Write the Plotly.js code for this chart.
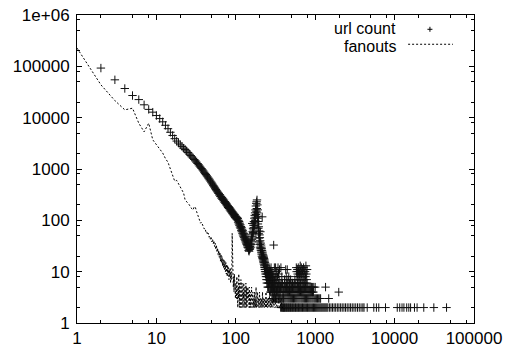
<!DOCTYPE html>
<html><head><meta charset="utf-8">
<script src="https://cdn.plot.ly/plotly-3.0.1.min.js"></script>
<style>html,body{margin:0;padding:0;background:#fff}#chart{width:505px;height:352px}</style>
</head><body><div id="chart"></div>
<script>
// ---------- tick labels ----------
const xTickVals = [1, 10, 100, 1000, 10000, 100000];
const xTickText = ['1', '10', '100', '1000', '10000', '100000'];
const yTickVals = [1, 10, 100, 1000, 10000, 100000, 1000000];
const yTickText = ['1', '10', '100', '1000', '10000', '100000', '1e+06'];
const xMinorTicks = [2, 5, 8, 20, 50, 80, 200, 500, 800, 2000, 5000, 8000, 20000, 50000, 80000];
const yMinorTicks = [2, 5, 8, 20, 50, 80, 200, 500, 800, 2000, 5000, 8000, 20000, 50000, 80000, 200000, 500000, 800000];

// ---------- series names ----------
const seriesNames = ['url count', 'fanouts'];

// ---------- fanouts (line) ----------
const fanX = [1,2,3,4,5,6,7,8,9,10,11,12,13,14,15,16,17,18,19,20,21,22,23,24,25,26,27,28,29,30,31,
  32,33,34,35,36,37,38,39,40,41,42,43,44,45,46,47,48,49,50,51,52,53,54,55,56,57,58,59,60,
  61,62,63,64,65,66,67,68,69,70,71,72,73,74,75,76,77,78,79,80,81,82,83,84,85,86,87,88,89,90,
  91,92,93,94,95,96,97,98,99,100,
  101,102,103,104,105,106,107,108,109,110,111,112,113,114,115,116,117,118,119,120,
  121,122,123,124,125,126,127,128,129,130,131,132,133,134,135,136,137,138,139,140,
  141,142,143,144,145,146,147,148,149,150,152,154,156,158,160,162,164,166,168,170,
  172,174,176,178,180,182,184,186,188,190,193,196,199,202,205,208,211,214,217,220,
  224,228,232,236,240,244,248,252,257,262,267,272,277,282,288,294,300,307,314,321,
  329,337,345,354,363,372,382,392,402];
const fanY = [227000,43700,21500,14200,15300,7800,5300,7800,3700,3000,2500,2050,1600,1350,1000,780,580,600,520,440,390,340,250,235,220,200,178,170,160,185,178,
  150,128,112,98,88,92,80,74,68,70,60,62,52,56,47,50,42,46,38,43,35,40,31,36,27,33,24,29,21,
  26,19,24,16,22,15,20,13,18,12,17,11,16,10,15,9,14,8,13,9,12,7,11,8,12,6,10,7,9,56,
  6,10,5,8,4,9,5,7,3,6,
  5,3,8,4,6,2,5,3,9,4,2,6,3,5,2,7,3,4,2,6,
  3,5,2,4,3,6,2,4,3,5,2,4,3,6,2,3,5,2,4,3,
  2,5,3,2,4,3,2,5,3,2,4,2,3,5,2,3,4,2,3,2,
  4,2,3,2,5,2,3,2,4,2,3,2,4,2,3,2,3,2,4,2,
  3,2,3,2,4,2,3,2,3,2,4,2,3,2,3,2,3,2,2,3,
  2,2,3,2,2,3,2,2,2];

// ---------- url count (points) ----------
const urlHeadX = [2,3,4,5,6,7,8,9,10,11,12,13,14,15,16,17,18,19,20,21,22,23,24,25,26,27,28,29,30,
  31,32,33,34,35,36,37,38,39,40,41,42,43,44,45,46,47,48,49,50,51,52,53,54,55,56,57,58,59,60,
  61,62,63,64,65,66,67,68,69,70,71,72,73,74,75,76,77,78,79,80,81,82,83,84,85,86,87,88,89,90,
  91,92,93,94,95,96,97,98,99,100,101,102,103,104,105];
const urlHeadY = [92500,54600,37000,27000,22500,17800,14500,12800,11000,9600,8300,7100,6100,5200,4500,3900,3500,3200,2950,2750,2550,2400,2250,2100,1950,1830,1720,1620,1530,
  1440,1360,1280,1210,1140,1080,1020,965,915,865,820,780,740,705,670,640,610,580,555,530,505,480,460,440,420,400,385,370,355,340,
  335,312,315,290,295,270,280,255,262,240,248,225,232,212,220,200,208,190,196,178,186,170,178,160,168,152,160,145,152,138,
  146,132,139,126,133,120,128,114,122,110,118,106,113,102,108];

const urlMidX = [106,107,108,109,110,111,112,113,114,115,116,117,118,119,120,121,122,123,124,125,
  126,127,128,129,130,131,132,133,134,135,136,137,138,139,140,141,142,143,144,145,146,147,148,149,150,
  151,152,153,154,155,156,157,158,159,160,161,162,163,164,165,166,167,168,169,170,
  171,172,173,174,175,176,177,178,179,180,181,182,183,184,185,186,187,188,189,190,
  191,192,193,194,195,196,197,198,199,200,201,202,203,204,205,206,207,208,209,210,
  211,212,213,214,215,216,217,218,219,220,221,222,223,224,225,226,227,228,229,230,
  231,232,233,234,235,236,237,238,239,240,241,242,243,244,245,246,247,248,249,250,
  251,252,253,254,255,256,257,258,259,260];
const urlMidY = [110,92,100,85,95,80,88,74,82,70,76,64,72,60,67,56,63,52,59,49,
  55,46,52,43,48,41,45,38,43,36,40,34,38,32,36,30,34,29,32,26,30,25,29,27,31,
  28,33,35,30,40,34,45,38,52,42,87,48,60,55,70,58,80,65,95,72,
  110,80,125,90,140,100,160,115,190,130,214,150,230,170,250,140,200,110,160,85,
  120,70,95,55,75,45,62,38,52,34,46,30,40,60,28,36,26,33,24,30,
  22,28,20,26,117,19,24,18,22,17,21,16,20,15,19,14,18,13,17,12,
  16,11,15,10,14,12,9,13,11,8,12,10,7,11,9,6,10,8,12,7,
  9,5,11,6,8,10,7,5,9,6];

const urlLowX = [261,262,263,264,265,266,267,268,269,270,271,272,273,274,275,276,277,278,279,280,
  281,282,283,284,285,286,287,288,289,290,291,292,293,294,295,296,297,298,299,300,
  301,302,303,304,305,306,307,308,309,310,312,313,315,316,317,318,320,321,323,324,
  326,327,329,330,332,334,335,337,339,340,342,344,345,347,349,350,352,354,355,357,
  359,361,363,365,367,369,370,372,374,376,378,380,382,384,386,388,390,392,394,396,398,400,
  410,425,432,440,445,455,465,490,520,555];
const urlLowY = [8,12,9,6,10,7,5,8,11,6,9,4,7,10,5,8,6,12,4,7,
  9,5,6,8,3,10,5,7,4,6,8,3,5,9,4,6,7,3,5,33,
  4,8,6,3,5,12,4,7,3,6,5,4,8,3,12,6,4,5,3,7,
  4,10,5,3,6,4,8,5,3,12,4,6,9,3,5,4,7,3,11,5,
  4,6,3,5,2,4,12,3,6,2,5,8,3,4,2,6,3,2,5,4,2,3,
  7,11,8,6,11,7,8,7,6,7];

const urlRow2X = [403,411,418,426,434,442,451,460,469,478,488,498,508,519,530,541,553,565,577,590,
  603,617,631,646,661,676,692,709,726,743,761,780,799,819,840,861,883,906,929,953,
  978,1004,1031,1059,1088,1118,1149,1181,1214,1249,1285,1322,1361,1401,1443,1510,1580,1650,1730,1810,
  1900,1990,2090,2190,2300,2410,2530,2660,2790,2930,3080,3240,3410,3590,3780,3980,4120,4520,5470,5900,
  6320,7680,10800,11600,12400,13100,14200,15100,15900,17800,19200,23300,31200,45100];
const urlRow3X = [404,416,429,443,457,471,486,501,517,533,550,568,586,605,624,644,665,686,708,731,
  754,778,803,829,856,883,912,941,972,1003,1036,1070,1105,1141,1170,1480];
const urlRow4X = [406,419,432,446,460,475,491,507,523,540,557,575,594,613,633,653,674,696,718,741,
  765,790,815,841,868,896,925,950,1980];
const urlRow5X = [407,421,436,452,468,484,501,518,536,555,574,594,615,637,659,682,706,731,757,783,
  810,838,867,897,928,960,1000,1350];
const urlRow6X = [413,431,452,474,497,520,545,570,597,625,655,685,717,752,790];
const urlTowerX = [578,584,589,596,601,607,612,618,624,630,636,642,648,655,662,669,676,683,690,698,
  706,714,722,730,738,746,755,764,773,782,790];
const urlTowerY = [12,10,8,11,9,7,12,10,8,11,9,7,13,10,8,12,9,7,11,10,
  8,12,9,7,11,10,8,13,9,7,11];

// assemble the url count series from the pieces above
function levelY(xs, v) { return xs.map(function () { return v; }); }
const urlX = [].concat(urlHeadX, urlMidX, urlLowX, urlRow2X, urlRow3X, urlRow4X, urlRow5X, urlRow6X, urlTowerX);
const urlY = [].concat(urlHeadY, urlMidY, urlLowY,
  levelY(urlRow2X, 2), levelY(urlRow3X, 3), levelY(urlRow4X, 4), levelY(urlRow5X, 5), levelY(urlRow6X, 6), urlTowerY);

// ---------- plot ----------
const FONT = '"Liberation Sans", Arial, Helvetica, sans-serif';
const traces = [
  { x: urlX, y: urlY, name: seriesNames[0], type: 'scatter', mode: 'markers',
    marker: { symbol: 'cross-thin-open', size: 6, color: '#111', line: { color: '#111', width: 1 } },
    hoverinfo: 'skip' },
  { x: fanX, y: fanY, name: seriesNames[1], type: 'scatter', mode: 'lines',
    line: { color: '#000', width: 1, dash: '2px,2px' }, hoverinfo: 'skip' }
];

function axisBase() {
  return {
    type: 'log', ticks: 'inside', ticklen: 5, tickwidth: 1, tickcolor: '#000',
    showline: true, linecolor: '#000', linewidth: 1, mirror: 'allticks',
    showgrid: false, zeroline: false,
    tickfont: { family: FONT, size: 17, color: '#000' }
  };
}
const xaxis = Object.assign(axisBase(), {
  range: [0, 5], tickmode: 'array', tickvals: xTickVals, ticktext: xTickText,
  minor: { tickmode: 'array', tickvals: xMinorTicks, ticks: 'inside', ticklen: 3, tickcolor: '#000', tickwidth: 1, showgrid: false }
});
const yaxis = Object.assign(axisBase(), {
  range: [0, 6], tickmode: 'array', tickvals: yTickVals, ticktext: yTickText, ticklabelstandoff: 3,
  minor: { tickmode: 'array', tickvals: yMinorTicks, ticks: 'inside', ticklen: 3, tickcolor: '#000', tickwidth: 1, showgrid: false }
});

const layout = {
  width: 505, height: 352,
  margin: { l: 77, r: 31, t: 15, b: 29, pad: 0 },
  paper_bgcolor: '#fff', plot_bgcolor: '#fff',
  showlegend: false,
  font: { family: FONT, size: 16, color: '#000' },
  xaxis: xaxis, yaxis: yaxis,
  annotations: [
    { xref: 'paper', yref: 'paper', x: 0.806, y: 0.957, xanchor: 'right', yanchor: 'middle', borderpad: 0,
      text: seriesNames[0], showarrow: false, font: { family: FONT, size: 16, color: '#000' } },
    { xref: 'paper', yref: 'paper', x: 0.806, y: 0.899, xanchor: 'right', yanchor: 'middle', borderpad: 0,
      text: seriesNames[1], showarrow: false, font: { family: FONT, size: 16, color: '#000' } }
  ],
  shapes: [
    { type: 'line', xref: 'paper', yref: 'paper', x0: 0.8827, x1: 0.8953, y0: 0.9536, y1: 0.9536, line: { color: '#000', width: 1 } },
    { type: 'line', xref: 'paper', yref: 'paper', x0: 0.889, x1: 0.889, y0: 0.9455, y1: 0.9617, line: { color: '#000', width: 1 } },
    { type: 'line', xref: 'paper', yref: 'paper', x0: 0.834, x1: 0.947, y0: 0.905, y1: 0.905, line: { color: '#000', width: 1, dash: '2px,2px' } }
  ]
};

Plotly.newPlot('chart', traces, layout, { staticPlot: true, displayModeBar: false });
</script>
</body></html>
